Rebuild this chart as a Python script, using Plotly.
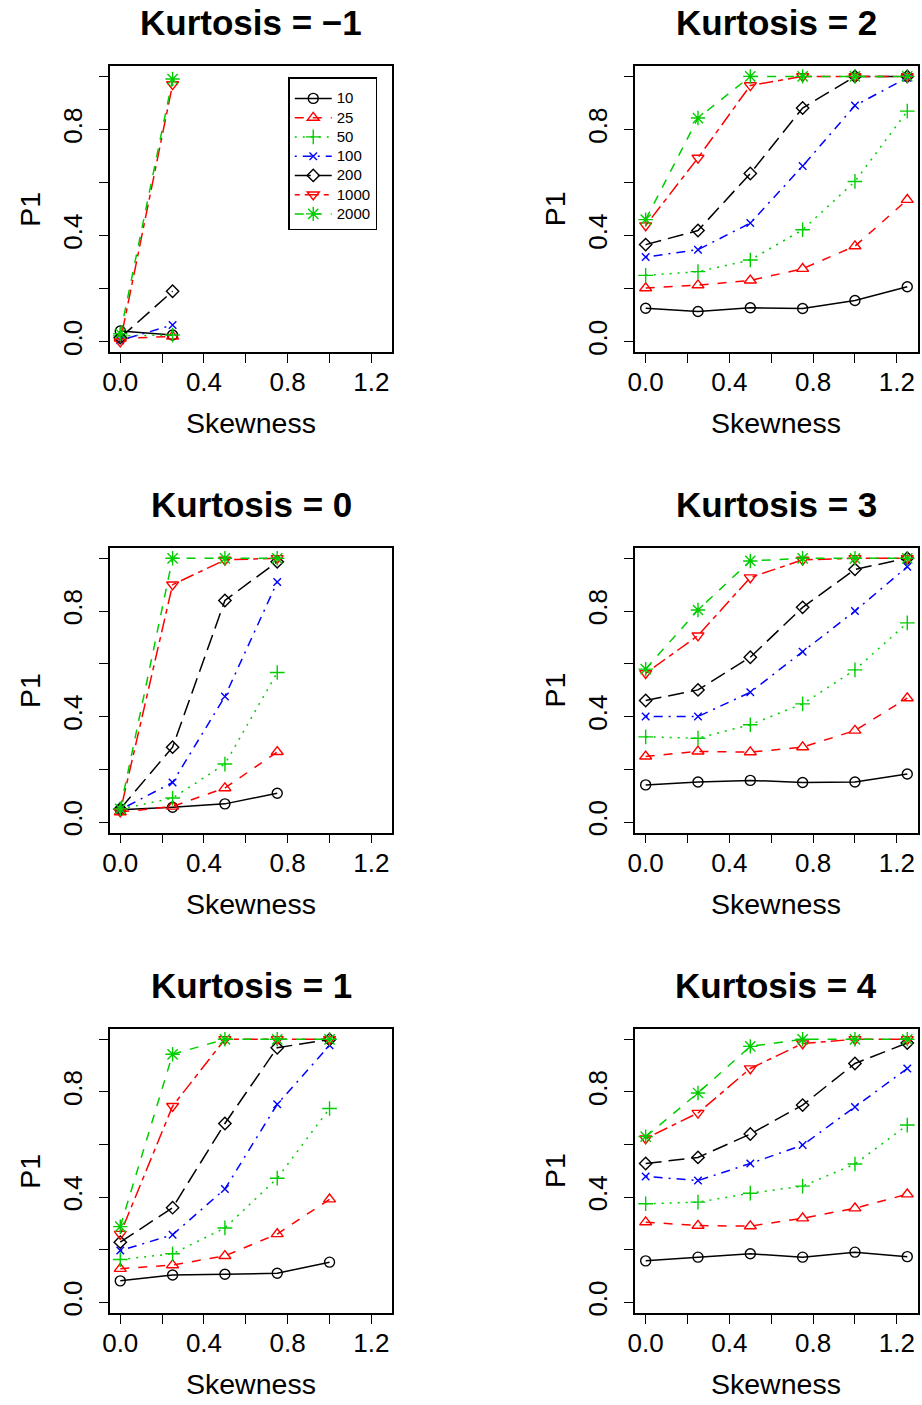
import plotly.graph_objects as go

# ---------------- data ----------------
skewness = [0.0, 0.25, 0.5, 0.75, 1.0, 1.25]
sample_sizes = ["10", "25", "50", "100", "200", "1000", "2000"]

# P1 for each sample size (rows) across skewness levels (columns)
p1_kurt_m1 = [
    [0.040, 0.025],
    [0.012, 0.020],
    [0.022, 0.025],
    [0.005, 0.063],
    [0.015, 0.190],
    [0.000, 0.970],
    [0.030, 0.990],
]
p1_kurt_0 = [
    [0.047, 0.056, 0.069, 0.109],
    [0.038, 0.059, 0.129, 0.266],
    [0.049, 0.091, 0.220, 0.567],
    [0.047, 0.150, 0.476, 0.910],
    [0.050, 0.284, 0.840, 0.987],
    [0.040, 0.900, 0.994, 1.000],
    [0.050, 1.000, 1.000, 1.000],
]
p1_kurt_1 = [
    [0.082, 0.104, 0.107, 0.111, 0.153],
    [0.128, 0.142, 0.177, 0.260, 0.392],
    [0.163, 0.185, 0.283, 0.472, 0.737],
    [0.197, 0.257, 0.431, 0.753, 0.977],
    [0.229, 0.360, 0.680, 0.968, 0.999],
    [0.260, 0.746, 1.000, 1.000, 1.000],
    [0.288, 0.943, 1.000, 1.000, 1.000],
]
p1_kurt_2 = [
    [0.126, 0.114, 0.128, 0.125, 0.155, 0.207],
    [0.202, 0.213, 0.231, 0.275, 0.360, 0.535],
    [0.250, 0.264, 0.308, 0.422, 0.604, 0.869],
    [0.319, 0.347, 0.447, 0.662, 0.890, 0.995],
    [0.366, 0.419, 0.634, 0.881, 1.000, 1.000],
    [0.438, 0.693, 0.966, 1.000, 1.000, 1.000],
    [0.460, 0.843, 1.000, 1.000, 1.000, 1.000],
]
p1_kurt_3 = [
    [0.141, 0.152, 0.158, 0.150, 0.152, 0.182],
    [0.249, 0.268, 0.265, 0.284, 0.347, 0.470],
    [0.323, 0.318, 0.369, 0.448, 0.577, 0.755],
    [0.400, 0.400, 0.492, 0.646, 0.800, 0.968],
    [0.461, 0.501, 0.625, 0.814, 0.958, 1.000],
    [0.564, 0.707, 0.927, 0.994, 1.000, 1.000],
    [0.580, 0.804, 0.990, 1.000, 1.000, 1.000],
]
p1_kurt_4 = [
    [0.158, 0.172, 0.185, 0.172, 0.191, 0.174],
    [0.305, 0.292, 0.290, 0.320, 0.358, 0.411],
    [0.375, 0.381, 0.415, 0.442, 0.526, 0.674],
    [0.479, 0.463, 0.528, 0.598, 0.743, 0.889],
    [0.528, 0.551, 0.640, 0.750, 0.908, 0.986],
    [0.623, 0.720, 0.889, 0.984, 1.000, 1.000],
    [0.630, 0.796, 0.973, 1.000, 1.000, 1.000],
]

panel_titles = ["Kurtosis = −1", "Kurtosis = 2", "Kurtosis = 0",
                "Kurtosis = 3", "Kurtosis = 1", "Kurtosis = 4"]
panel_data = [p1_kurt_m1, p1_kurt_2, p1_kurt_0, p1_kurt_3, p1_kurt_1, p1_kurt_4]

x_tick_vals = [0.0, 0.2, 0.4, 0.6, 0.8, 1.0, 1.2]
x_tick_text = ["0.0", "", "0.4", "", "0.8", "", "1.2"]
y_tick_vals = [0.0, 0.2, 0.4, 0.6, 0.8, 1.0]
y_tick_text = ["0.0", "", "0.4", "", "0.8", ""]

# ---------------- styles ----------------
colors = ["black", "#FF0000", "#00CD00", "#0000FF", "black", "#FF0000", "#00CD00"]
dashes = ["solid", "9px,9px", "2px,6px", "2px,6px,9px,6px", "16px,7px",
          "5px,5px,14px,5px", "9px,9px"]
symbols = ["circle-open", "triangle-up-open", "cross-thin-open", "x-thin-open",
           "diamond-open", "triangle-down-open", "asterisk-open"]
msizes = [10, 10.5, 10.5, 7.5, 9.5, 10.5, 12]

W, H = 922, 1405
FONT = "Liberation Sans"
# plot-box pixel positions
col_x = [(102.7, 387.7), (632.7, 917.7)]
row_y = [(66.0, 353.3), (549.3, 835.0), (1031.7, 1316.7)]

fig = go.Figure()
layout = dict(width=W, height=H, margin=dict(l=0, r=0, t=0, b=0),
              paper_bgcolor="white", plot_bgcolor="white",
              font=dict(family=FONT, color="black"),
              annotations=[])

for i, (title, data) in enumerate(zip(panel_titles, panel_data)):
    r, c = divmod(i, 2)
    n = i + 1
    xk = "xaxis" if n == 1 else f"xaxis{n}"
    yk = "yaxis" if n == 1 else f"yaxis{n}"
    xr = "x" if n == 1 else f"x{n}"
    yr = "y" if n == 1 else f"y{n}"
    x0, x1 = col_x[c]
    yt, yb = row_y[r]
    layout[xk] = dict(domain=[x0 / W, x1 / W], anchor=yr, range=[-0.05, 1.30],
                      tickmode="array", tickvals=x_tick_vals, ticktext=x_tick_text,
                      ticks="outside", ticklen=9, tickwidth=1.4, tickcolor="black",
                      showline=True, linecolor="black", linewidth=1.6, mirror=True,
                      showgrid=False, zeroline=False, ticklabelstandoff=-3,
                      tickfont=dict(size=26, family=FONT, color="black"))
    layout[yk] = dict(domain=[1 - yb / H, 1 - yt / H], anchor=xr, range=[-0.04, 1.04],
                      tickmode="array", tickvals=y_tick_vals, ticktext=y_tick_text,
                      ticks="outside", ticklen=9, tickwidth=1.4, tickcolor="black",
                      tickangle=-90,
                      showline=True, linecolor="black", linewidth=1.6, mirror=True,
                      showgrid=False, zeroline=False, ticklabelstandoff=7,
                      tickfont=dict(size=26, family=FONT, color="black"))
    for k, ys in enumerate(data):
        fig.add_trace(go.Scatter(
            x=skewness[:len(ys)], y=ys, xaxis=xr, yaxis=yr,
            mode="lines+markers",
            name=f'<span style="font-size:15px">{sample_sizes[k]}</span>',
            legendgroup=sample_sizes[k], showlegend=(n == 1),
            line=dict(color=colors[k], width=1.5, dash=dashes[k]),
            marker=dict(symbol=symbols[k], size=msizes[k], color=colors[k],
                        line=dict(color=colors[k], width=1.4)),
            cliponaxis=False,
        ))
    layout["annotations"].append(dict(
        text=f"<b>{title}</b>", xref=f"{xr} domain", yref=f"{yr} domain",
        x=0.5, y=1, yshift=43, showarrow=False, xanchor="center", yanchor="middle",
        font=dict(size=35, family=FONT, color="black")))
    layout["annotations"].append(dict(
        text="Skewness", xref=f"{xr} domain", yref=f"{yr} domain",
        x=0.5, y=0, yshift=-71, showarrow=False, xanchor="center", yanchor="middle",
        font=dict(size=28.5, family=FONT, color="black")))
    layout["annotations"].append(dict(
        text="P1", xref=f"{xr} domain", yref=f"{yr} domain",
        x=0, y=0.5, xshift=-80, showarrow=False, xanchor="center", yanchor="middle",
        textangle=-90, font=dict(size=28.5, family=FONT, color="black")))

layout["legend"] = dict(x=282.7 / W, y=1 - 77.3 / H, xanchor="left", yanchor="top",
                        bgcolor="white", bordercolor="black", borderwidth=1.5,
                        font=dict(size=12.5, family=FONT, color="black"),
                        title=dict(text=" ", font=dict(size=4)),
                        itemwidth=37, tracegroupgap=0)
layout["showlegend"] = True
fig.update_layout(**layout)
fig.write_html(
    "out.html",
    config={"displayModeBar": False},
    post_script="document.body.style.margin='0';document.body.style.padding='0';"
                "document.documentElement.style.overflow='hidden';",
)
